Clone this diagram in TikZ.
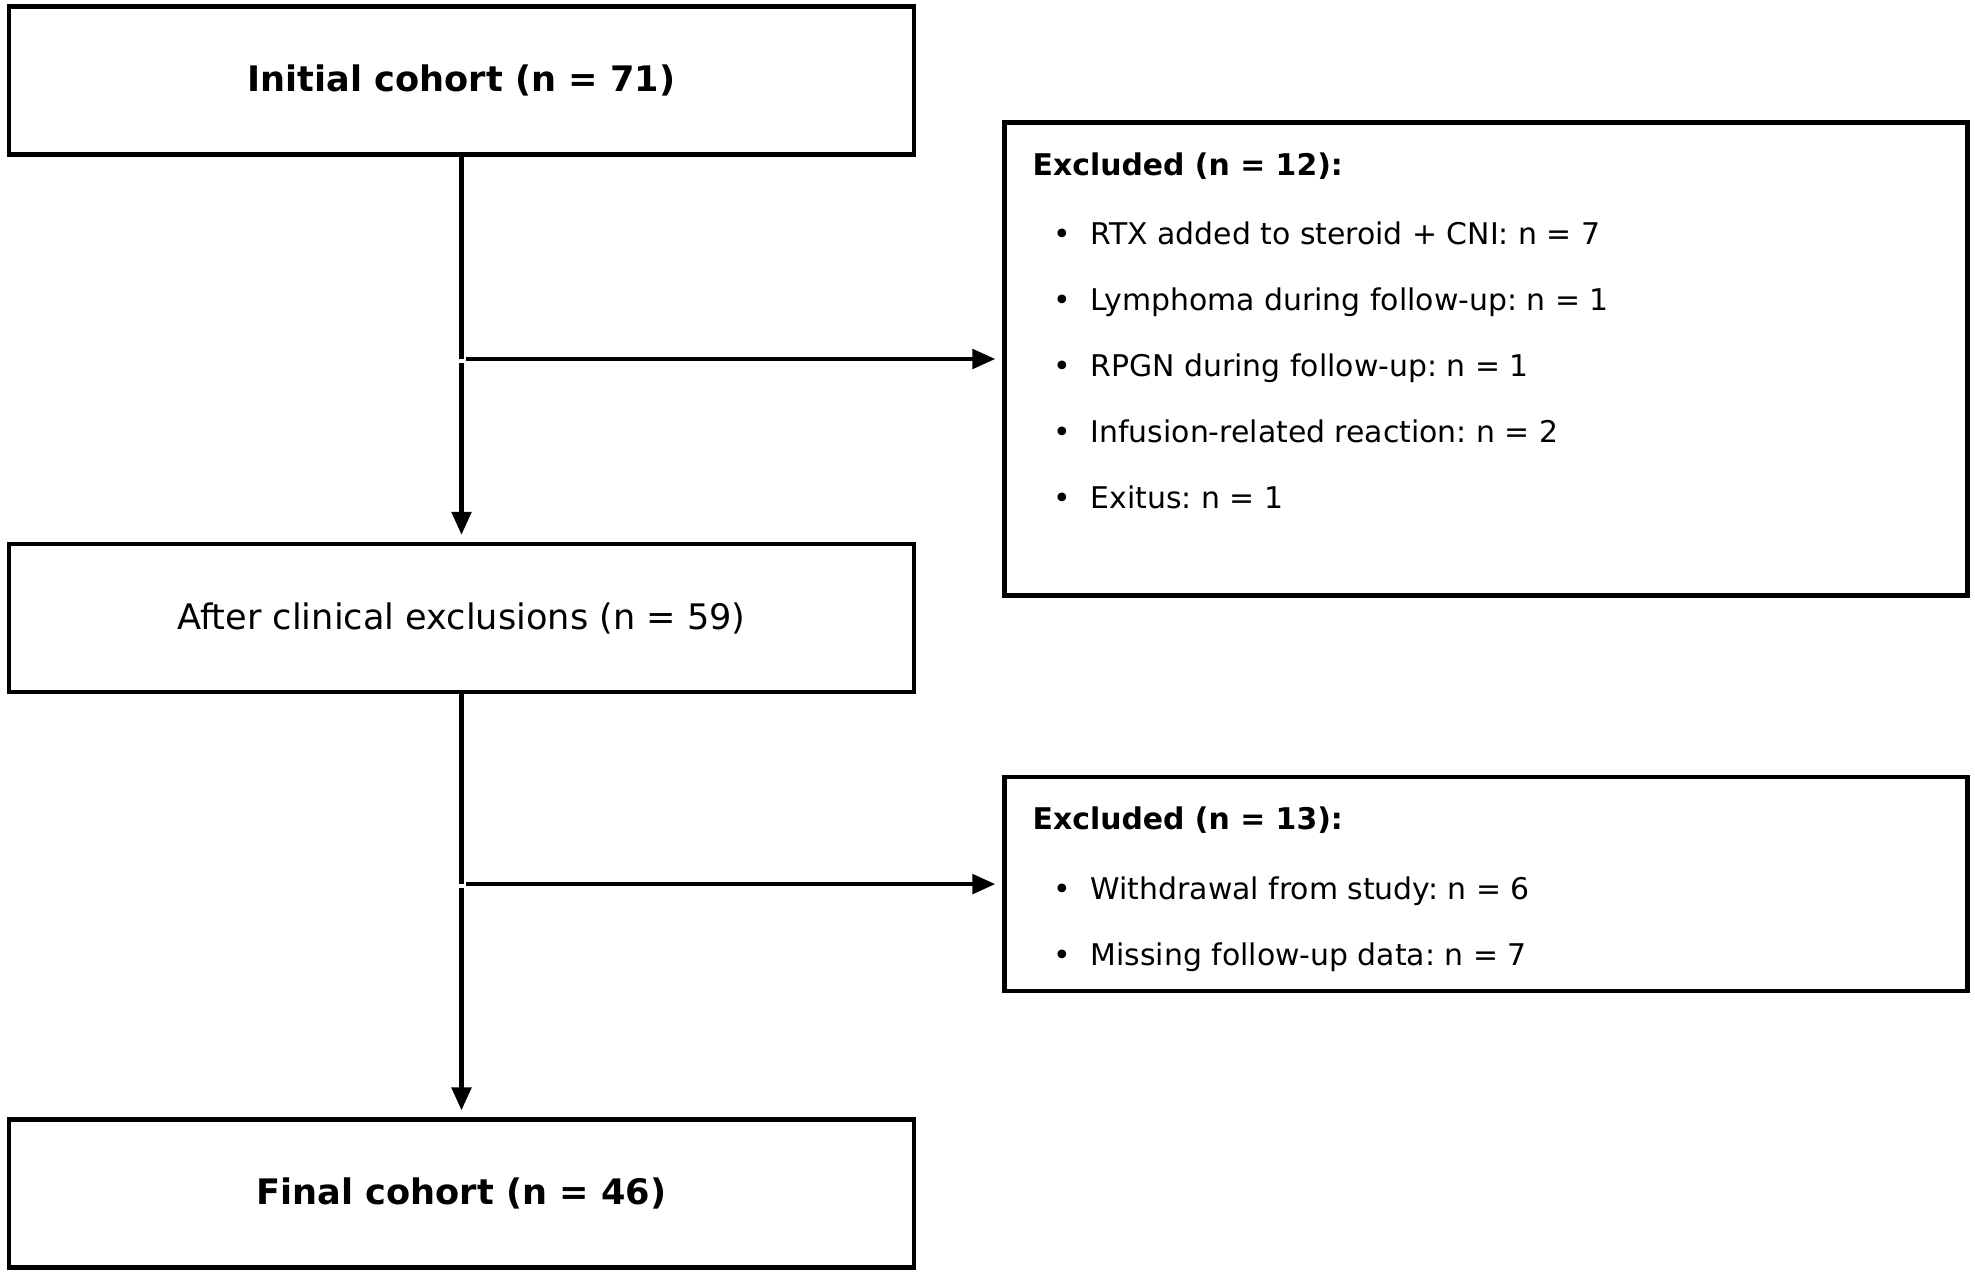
\documentclass[tikz,border=0pt]{standalone}
\usepackage{fontspec}
\setmainfont{DejaVu Sans}
\usetikzlibrary{arrows.meta,positioning}
\frenchspacing
\newcommand{\exitem}[1]{\hspace*{12pt}\textbullet\hspace{11pt}#1}

\begin{document}
\begin{tikzpicture}[cohort/.style = {rectangle, draw, line width = 2.6pt, minimum width = 18.1cm, minimum height = 2.96cm, font = \fontsize{20}{24}\selectfont},
						exclbox/.style = {rectangle, draw, line width = 2.6pt, minimum width = 19.26cm},
						excltext/.style = {anchor = north west, inner sep = 0pt, align = left, font = \fontsize{17}{37.5}\selectfont},
						pathstyle/.style = {line width = 2.4pt},
						arrowstyle/.style = {pathstyle, -{Triangle[length = 13pt, width = 11pt]}, shorten <= 2.5pt, shorten >= 4pt}]
		\useasboundingbox (0,0) rectangle (39.5,-25.46);
		% Cohort boxes
		\node (initial) at (9.23,-1.61) [cohort] {\textbf{Initial cohort (n = 71)}};
		\node (clinical) [cohort, below = 7.7cm of initial] {After clinical exclusions (n = 59)};
		\node (final) [cohort, below = 8.46cm of clinical] {\textbf{Final cohort (n = 46)}};
		% Exclusion boxes
		\node (excl1) [exclbox, minimum height = 9.46cm, below right = 2.32cm and 1.72cm of initial.north east] {};
		\node (excl1list) [excltext] at ([xshift = 0.6cm, yshift = -0.64cm] excl1.north west) {\textbf{Excluded (n = 12):}\\[2pt] \exitem{RTX added to steroid + CNI: n = 7}\\ \exitem{Lymphoma during follow-up: n = 1}\\ \exitem{RPGN during follow-up: n = 1}\\ \exitem{Infusion-related reaction: n = 2}\\ \exitem{Exitus: n = 1}};
		\node (excl2) [exclbox, minimum height = 4.28cm, below right = 4.66cm and 1.72cm of clinical.north east] {};
		\node (excl2list) [excltext] at ([xshift = 0.6cm, yshift = -0.64cm] excl2.north west) {\textbf{Excluded (n = 13):}\\[2pt] \exitem{Withdrawal from study: n = 6}\\ \exitem{Missing follow-up data: n = 7}};
		% Connectors
		\coordinate (split1) at (initial.south |- excl1.west);
		\coordinate (split2) at (clinical.south |- excl2.west);
		\draw [pathstyle] (initial) -- (split1);
		\draw [arrowstyle] (split1) -- (excl1.west);
		\draw [arrowstyle] (split1) -- (clinical);
		\draw [pathstyle] (clinical) -- (split2);
		\draw [arrowstyle] (split2) -- (excl2.west);
		\draw [arrowstyle] (split2) -- (final);
	\end{tikzpicture}
\end{document}
